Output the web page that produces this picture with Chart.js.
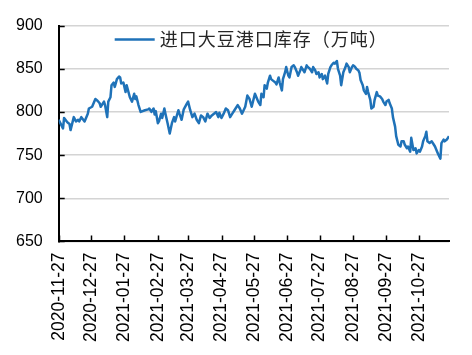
<!DOCTYPE html>
<html>
<head>
<meta charset="utf-8">
<script src="https://cdn.jsdelivr.net/npm/chart.js@4.4.1/dist/chart.umd.min.js"></script>
<style>
  html, body { margin: 0; padding: 0; background: #fff; }
  #wrap { width: 472px; height: 355px; }
</style>
</head>
<body>
<div id="wrap"><canvas id="c" width="472" height="355"></canvas></div>
<script>
// ---- data ----
const startDate = '2020-11-27';
const seriesName = '进口大豆港口库存（万吨）';
const tickDates = ['2020-11-27','2020-12-27','2021-01-27','2021-02-27','2021-03-27','2021-04-27',
                   '2021-05-27','2021-06-27','2021-07-27','2021-08-27','2021-09-27','2021-10-27'];
// days since startDate
const dayOffsets = [
  0,4,5,8,10,11,14,16,18,19,21,24,27,28,31,34,36,38,39,42,43,45,46,48,49,51,52,54,56,57,58,60,62,63,66,68,70,71,72,74,76,80,83,84,86,88,89,90,92,
  93,95,96,98,99,101,103,105,107,108,111,112,114,116,119,120,122,124,126,128,130,132,134,136,138,140,142,144,146,148,149,151,153,155,157,159,161,163,166,168,170,173,175,177,179,182,
  185,187,188,190,191,193,194,196,197,199,201,202,204,205,207,208,210,211,213,214,216,218,219,221,222,224,225,227,228,230,231,233,235,236,238,239,241,242,244,245,247,249,250,252,253,255,256,258,259,261,262,264,266,267,269,270,272,273,275,276,278,
  279,280,282,283,285,286,287,289,290,292,293,295,296,298,300,301,303,304,306,307,309,310,312,313,315,317,318,320,321,323,324,326,327,329,331,332,334,335,337,338,340,341,342,344,346,348,349,351,352,354,355,357,358,360,362
];
const inventory = [
  791,781,793,788,786,779,794,789,791,789,794,789,798,804,806,815,813,810,806,812,808,794,812,817,831,834,829,838,841,840,833,834,823,831,817,812,821,815,818,808,800,802,803,804,800,804,797,801,787,
  789,798,793,804,798,787,775,787,794,789,802,798,791,803,810,812,802,794,798,791,787,796,794,789,798,793,796,798,800,794,799,793,798,804,802,794,798,802,808,804,798,806,819,815,806,821,
  812,808,821,817,831,827,834,842,838,836,834,832,840,834,825,838,846,852,842,840,852,854,852,846,842,848,852,848,846,854,852,850,846,852,848,844,846,840,844,838,842,833,844,852,854,857,856,859,850,842,831,846,852,856,852,846,852,854,852,850,848,
  845,837,831,825,821,829,823,814,804,806,814,823,819,818,815,812,808,812,814,810,804,794,783,772,762,760,766,766,762,758,760,754,770,756,758,752,756,754,760,766,772,777,766,764,766,762,760,754,751,746,764,768,766,768,772
];
const yTicks = [650, 700, 750, 800, 850, 900];

// ---- helpers ----
const DAY = 86400000;
const toDays = s => { const [a,b,c] = s.split('-').map(Number); const [d,e,f] = startDate.split('-').map(Number);
  return Math.round((Date.UTC(a,b-1,c) - Date.UTC(d,e-1,f)) / DAY); };
const tickOffsets = tickDates.map(toDays);
const points = dayOffsets.map((d, i) => ({ x: d, y: inventory[i] }));
const LINE_COLOR = '#1f72b8';

const innerTicks = {
  id: 'innerTicks',
  afterDraw(chart) {
    const { ctx, chartArea, scales: { x, y } } = chart;
    ctx.save();
    ctx.strokeStyle = '#000';
    ctx.lineWidth = 1.5;
    x.ticks.forEach(t => {
      const px = Math.round(x.getPixelForValue(t.value)) + 0.5;
      ctx.beginPath(); ctx.moveTo(px, chartArea.bottom); ctx.lineTo(px, chartArea.bottom - 6); ctx.stroke();
    });
    y.ticks.forEach(t => {
      const py = Math.round(y.getPixelForValue(t.value)) + 0.5;
      ctx.beginPath(); ctx.moveTo(chartArea.left, py); ctx.lineTo(chartArea.left + 6, py); ctx.stroke();
    });
    ctx.restore();
  }
};

// legend drawn inside the plot area, near its top
const insideLegend = {
  id: 'insideLegend',
  afterDraw(chart) {
    const { ctx, chartArea } = chart;
    const ds = chart.data.datasets[0];
    const yMid = chartArea.top + 14;
    const x0 = chartArea.left + 56;
    ctx.save();
    ctx.strokeStyle = ds.borderColor;
    ctx.lineWidth = ds.borderWidth;
    ctx.beginPath(); ctx.moveTo(x0, yMid); ctx.lineTo(x0 + 40, yMid); ctx.stroke();
    ctx.fillStyle = '#262626';
    ctx.font = '18px "Noto Sans CJK SC", sans-serif';
    if ('letterSpacing' in ctx) ctx.letterSpacing = '1px';
    ctx.textBaseline = 'middle';
    ctx.textAlign = 'left';
    ctx.fillText(ds.label, x0 + 45, yMid);
    ctx.restore();
  }
};

new Chart(document.getElementById('c'), {
  type: 'line',
  data: {
    datasets: [{
      label: seriesName,
      data: points,
      borderColor: LINE_COLOR,
      backgroundColor: LINE_COLOR,
      borderWidth: 2.5,
      pointRadius: 0,
      tension: 0,
      borderJoinStyle: 'round'
    }]
  },
  options: {
    responsive: false,
    animation: false,
    layout: { padding: { left: 0, right: 23, top: 16, bottom: 2 } },
    plugins: {
      tooltip: { enabled: false },
      legend: { display: false }
    },
    scales: {
      x: {
        type: 'linear',
        min: 0,
        max: 362,
        afterBuildTicks: (scale) => { scale.ticks = tickOffsets.map(v => ({ value: v })); },
        ticks: {
          autoSkip: false,
          maxRotation: 90,
          minRotation: 90,
          padding: 11,
          color: '#000',
          font: { family: '"Liberation Sans", Arial, sans-serif', size: 17.5 },
          callback: (v) => { const i = tickOffsets.indexOf(v); return i >= 0 ? tickDates[i] : ''; }
        },
        grid: { display: false, drawTicks: false },
        border: { display: true, color: '#000', width: 2 }
      },
      y: {
        min: 650,
        max: 900,
        afterBuildTicks: (scale) => { scale.ticks = yTicks.map(v => ({ value: v })); },
        ticks: {
          padding: 16,
          color: '#000',
          font: { family: '"Liberation Sans", Arial, sans-serif', size: 16 }
        },
        grid: { color: '#d4d4d4', lineWidth: 1.5, drawTicks: false },
        border: { display: true, color: '#000', width: 2 }
      }
    }
  },
  plugins: [innerTicks, insideLegend]
});
</script>
</body>
</html>
